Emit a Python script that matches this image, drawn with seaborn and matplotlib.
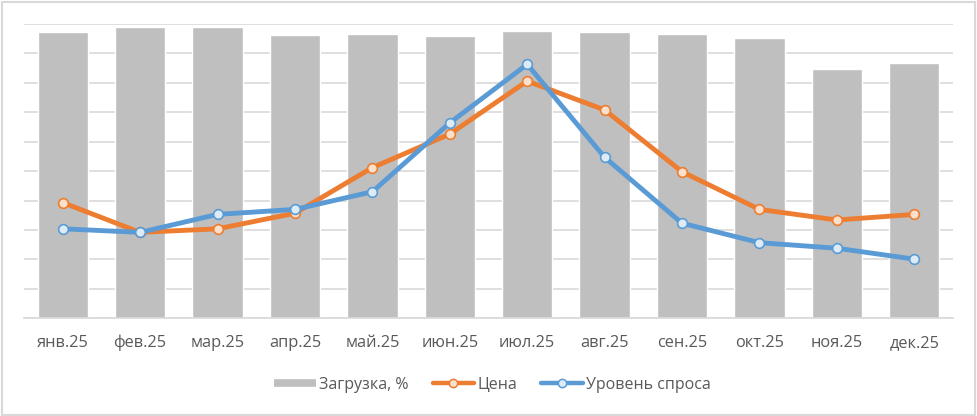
import numpy as np
import pandas as pd
import matplotlib
matplotlib.use("Agg")
import matplotlib.pyplot as plt
from matplotlib.lines import Line2D
from matplotlib.patches import Rectangle
import seaborn as sns

# Data
months = ["янв.25", "фев.25", "мар.25", "апр.25", "май.25", "июн.25",
          "июл.25", "авг.25", "сен.25", "окт.25", "ноя.25", "дек.25"]
load_pct = [97.3, 99.0, 99.0, 96.3, 96.7, 95.9, 97.6, 97.3, 96.7, 95.2, 84.7, 86.8]
price = [39.3, 29.2, 30.4, 35.7, 51.2, 62.6, 80.6, 70.8, 49.8, 37.0, 33.4, 35.3]
demand = [30.4, 29.2, 35.3, 37.0, 43.0, 66.4, 86.3, 54.7, 32.3, 25.7, 23.8, 20.1]

BAR_C = "#BFBFBF"
ORANGE = "#ED7D31"
BLUE = "#5B9BD5"
GRID_C = "#D9D9D9"
TEXT_C = "#595959"

sns.set_style("white")
plt.rcParams["font.family"] = ["Open Sans", "DejaVu Sans"]

df = pd.DataFrame({"Месяц": months, "Загрузка": load_pct,
                   "Цена": price, "Спрос": demand})

fig = plt.figure(figsize=(9.77, 4.16), dpi=100)
ax = fig.add_axes([0.0246, 0.2349, 0.9508, 0.7074])

sns.barplot(data=df, x="Месяц", y="Загрузка", color=BAR_C, saturation=1,
            width=0.65, ax=ax, zorder=2)

sns.pointplot(data=df, x="Месяц", y="Цена", color=ORANGE, markers="o",
              linewidth=3.5, markersize=7, markerfacecolor="#FBE0CC",
              markeredgecolor=ORANGE, markeredgewidth=1.2, ax=ax, zorder=4)
sns.pointplot(data=df, x="Месяц", y="Спрос", color=BLUE, markers="o",
              linewidth=3.5, markersize=7, markerfacecolor="#DDEBF7",
              markeredgecolor=BLUE, markeredgewidth=1.2, ax=ax, zorder=5)

ax.set_ylim(0, 100)
ax.set_xlim(-0.5, 11.5)
ax.set_yticks(np.arange(0, 101, 10))
ax.set_yticklabels([])
ax.tick_params(axis="y", length=0)
ax.yaxis.grid(True, color=GRID_C, linewidth=1.2, zorder=0)
ax.set_axisbelow(True)
ax.set_xlabel("")
ax.set_ylabel("")

ax.set_xticks(np.arange(-0.5, 12, 1), minor=True)
ax.tick_params(axis="x", which="minor", length=5, color=GRID_C, width=1, direction="out")
ax.tick_params(axis="x", which="major", length=0, pad=12, labelsize=11.8, labelcolor=TEXT_C)

for side in ["top", "left", "right"]:
    ax.spines[side].set_visible(False)
ax.spines["bottom"].set_color(GRID_C)
ax.spines["bottom"].set_linewidth(1.2)

handles = [
    Line2D([0], [0], color=BAR_C, lw=5.5, solid_capstyle="butt"),
    Line2D([0], [0], color=ORANGE, lw=3.2, marker="o", ms=6,
           mfc="#FBE0CC", mec=ORANGE, mew=1.1),
    Line2D([0], [0], color=BLUE, lw=3.2, marker="o", ms=6,
           mfc="#DDEBF7", mec=BLUE, mew=1.1),
]
leg = fig.legend(handles, ["Загрузка, %", "Цена", "Уровень спроса"],
                 loc="center", bbox_to_anchor=(0.504, 0.075), ncol=3,
                 frameon=False, fontsize=11.5, handlelength=2.6,
                 handletextpad=0.2, columnspacing=1.5)
for t in leg.get_texts():
    t.set_color(TEXT_C)

fig.patches.append(Rectangle((0.002, 0.003), 0.996, 0.993, transform=fig.transFigure,
                             fill=False, edgecolor="#D9D9D9", linewidth=1.5))

fig.savefig("out.png", dpi=100, facecolor="white")
